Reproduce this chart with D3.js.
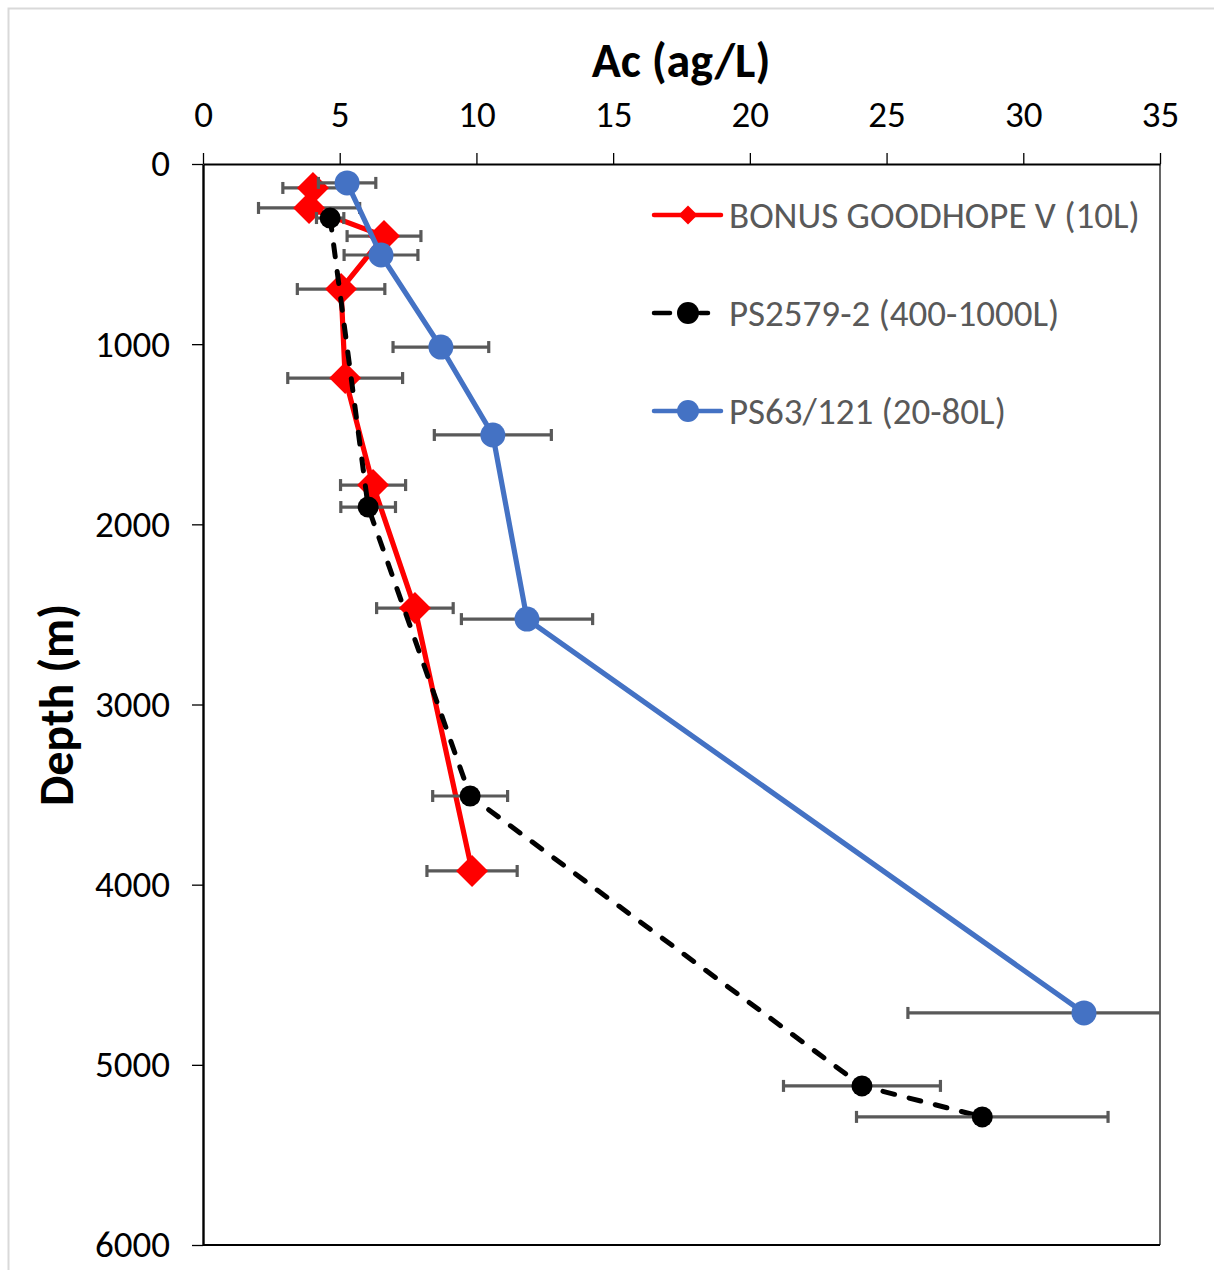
<!DOCTYPE html>
<html>
<head>
<meta charset="utf-8">
<script src="https://cdn.jsdelivr.net/npm/d3@7"></script>
<style>
  html, body { margin: 0; padding: 0; background: #fff; }
  svg { display: block; }
</style>
</head>
<body>
<script>
// ---- Data ----
const xTicks = [0, 5, 10, 15, 20, 25, 30, 35];
const yTicks = [0, 1000, 2000, 3000, 4000, 5000, 6000];

const seriesNames = ["BONUS GOODHOPE V (10L)", "PS2579-2 (400-1000L)", "PS63/121 (20-80L)"];

const redDepth = [133, 244, 400, 694, 1188, 1782, 2465, 3924];
const redAc    = [4.02, 3.88, 6.62, 5.05, 5.2, 6.22, 7.75, 9.84];
const redErr   = [1.1, 1.85, 1.35, 1.6, 2.1, 1.19, 1.4, 1.65];

const blackDepth = [300, 1904, 3508, 5117, 5289];
const blackAc    = [4.65, 6.04, 9.77, 24.1, 28.5];
const blackErr   = [0.5, 1.0, 1.37, 2.87, 4.6];

const blueDepth = [105, 505, 1016, 1504, 2526, 4712];
const blueAc    = [5.27, 6.51, 8.7, 10.6, 11.85, 32.22];
const blueErr   = [1.05, 1.35, 1.75, 2.14, 2.4, 6.44];

// ---- Layout ----
const W = 1214, H = 1270;
const pLeft = 203, pRight = 1160, pTop = 164, pBottom = 1245;
const FONT = "Carlito, Calibri, Lato, 'Open Sans', sans-serif";
const TICK_FS = 37, LEG_FS = 37, TITLE_FS = 48;

const svg = d3.select("body").append("svg").attr("width", W).attr("height", H);

// outer chart border
svg.append("rect").attr("x", 8.5).attr("y", 8.5).attr("width", W + 20).attr("height", H + 20)
  .attr("fill", "#fff").attr("stroke", "#d9d9d9").attr("stroke-width", 2);

const x = d3.scaleLinear().domain([0, 35]).range([pLeft, pRight]);
const y = d3.scaleLinear().domain([0, 6000]).range([pTop, pBottom]);

// clip
svg.append("clipPath").attr("id", "plotclip").append("rect")
  .attr("x", pLeft).attr("y", pTop - 20).attr("width", pRight - pLeft).attr("height", pBottom - pTop + 40);

// frame lines
svg.append("line").attr("x1", pRight).attr("x2", pRight).attr("y1", pTop).attr("y2", pBottom)
  .attr("stroke", "#000").attr("stroke-width", 1.2);
svg.append("line").attr("x1", pLeft).attr("x2", pRight).attr("y1", pBottom).attr("y2", pBottom)
  .attr("stroke", "#000").attr("stroke-width", 2.2);

// axes
const xAxis = d3.axisTop(x).tickValues(xTicks).tickSize(11).tickSizeOuter(0).tickPadding(26)
  .tickFormat(d3.format("d"));
const gx = svg.append("g").attr("transform", `translate(0,${pTop})`).call(xAxis);
gx.select(".domain").attr("stroke", "#000").attr("stroke-width", 2.2);
gx.selectAll(".tick line").attr("stroke", "#000").attr("stroke-width", 1.3);
gx.selectAll(".tick text").attr("font-family", FONT).attr("font-size", TICK_FS).attr("fill", "#000");

const yAxis = d3.axisLeft(y).tickValues(yTicks).tickSize(11).tickSizeOuter(0).tickPadding(22)
  .tickFormat(d3.format("d"));
const gy = svg.append("g").attr("transform", `translate(${pLeft},0)`).call(yAxis);
gy.select(".domain").attr("stroke", "#000").attr("stroke-width", 2.4);
gy.selectAll(".tick line").attr("stroke", "#000").attr("stroke-width", 1.3);
gy.selectAll(".tick text").attr("font-family", FONT).attr("font-size", TICK_FS).attr("fill", "#000");

// axis titles
svg.append("text").attr("x", 681).attr("y", 77).attr("text-anchor", "middle")
  .attr("font-family", FONT).attr("font-weight", "bold").attr("font-size", TITLE_FS).attr("fill", "#000")
  .text("Ac (ag/L)");
svg.append("text").attr("transform", "translate(73,705) rotate(-90)").attr("text-anchor", "middle")
  .attr("font-family", FONT).attr("font-weight", "bold").attr("font-size", TITLE_FS).attr("fill", "#000")
  .text("Depth (m)");

// ---- Series ----
const series = [
  { name: seriesNames[0], depth: redDepth, ac: redAc, err: redErr, color: "#ff0000", dash: null, marker: "diamond", size: 16 },
  { name: seriesNames[1], depth: blackDepth, ac: blackAc, err: blackErr, color: "#000000", dash: "12,15", marker: "circle", size: 10.5 },
  { name: seriesNames[2], depth: blueDepth, ac: blueAc, err: blueErr, color: "#4472c4", dash: null, marker: "circle", size: 12.5 }
];

const plot = svg.append("g").attr("clip-path", "url(#plotclip)");
const line = d3.line().x(d => x(d.ac)).y(d => y(d.depth));
const ERR = "#595959";
const cap = 6;

series.forEach(s => {
  const pts = s.depth.map((d, i) => ({ depth: d, ac: s.ac[i], err: s.err[i] }));
  const g = plot.append("g");
  g.append("path").datum(pts).attr("d", line).attr("fill", "none")
    .attr("stroke", s.color).attr("stroke-width", s.dash ? 5 : 5.2)
    .attr("stroke-linejoin", "round")
    .attr("stroke-linecap", s.dash ? "round" : "butt")
    .attr("stroke-dasharray", s.dash);
  // error bars
  const eb = g.append("g").attr("stroke", ERR).attr("stroke-width", 3.2);
  pts.forEach(p => {
    const x0 = x(p.ac - p.err), x1 = x(p.ac + p.err), yy = y(p.depth);
    eb.append("line").attr("x1", x0).attr("x2", x1).attr("y1", yy).attr("y2", yy);
    eb.append("line").attr("x1", x0).attr("x2", x0).attr("y1", yy - cap).attr("y2", yy + cap);
    eb.append("line").attr("x1", x1).attr("x2", x1).attr("y1", yy - cap).attr("y2", yy + cap);
  });
  // markers
  pts.forEach(p => {
    const cx = x(p.ac), cy = y(p.depth);
    if (s.marker === "diamond") {
      const r = s.size;
      g.append("path").attr("d", `M${cx},${cy - r}L${cx + r},${cy}L${cx},${cy + r}L${cx - r},${cy}Z`)
        .attr("fill", s.color);
    } else {
      g.append("circle").attr("cx", cx).attr("cy", cy).attr("r", s.size).attr("fill", s.color);
    }
  });
});

// ---- Legend ----
const legY = [215, 313, 411];
const legend = svg.append("g");
series.forEach((s, i) => {
  const ly = legY[i];
  const lg = legend.append("g");
  if (s.dash) {
    lg.append("line").attr("x1", 654).attr("x2", 670).attr("y1", ly).attr("y2", ly)
      .attr("stroke", s.color).attr("stroke-width", 4.5).attr("stroke-linecap", "round");
    lg.append("line").attr("x1", 700).attr("x2", 708).attr("y1", ly).attr("y2", ly)
      .attr("stroke", s.color).attr("stroke-width", 4.5).attr("stroke-linecap", "round");
  } else {
    lg.append("line").attr("x1", 654).attr("x2", 721).attr("y1", ly).attr("y2", ly)
      .attr("stroke", s.color).attr("stroke-width", 4.5).attr("stroke-linecap", "round");
  }
  if (s.marker === "diamond") {
    const r = 9.5, cx = 688;
    lg.append("path").attr("d", `M${cx},${ly - r}L${cx + r},${ly}L${cx},${ly + r}L${cx - r},${ly}Z`).attr("fill", s.color);
  } else {
    lg.append("circle").attr("cx", 688).attr("cy", ly).attr("r", 11).attr("fill", s.color);
  }
  lg.append("text").attr("x", 729).attr("y", ly).attr("dy", "0.35em")
    .attr("font-family", FONT).attr("font-size", LEG_FS).attr("fill", "#595959").text(s.name);
});
</script>
</body>
</html>
